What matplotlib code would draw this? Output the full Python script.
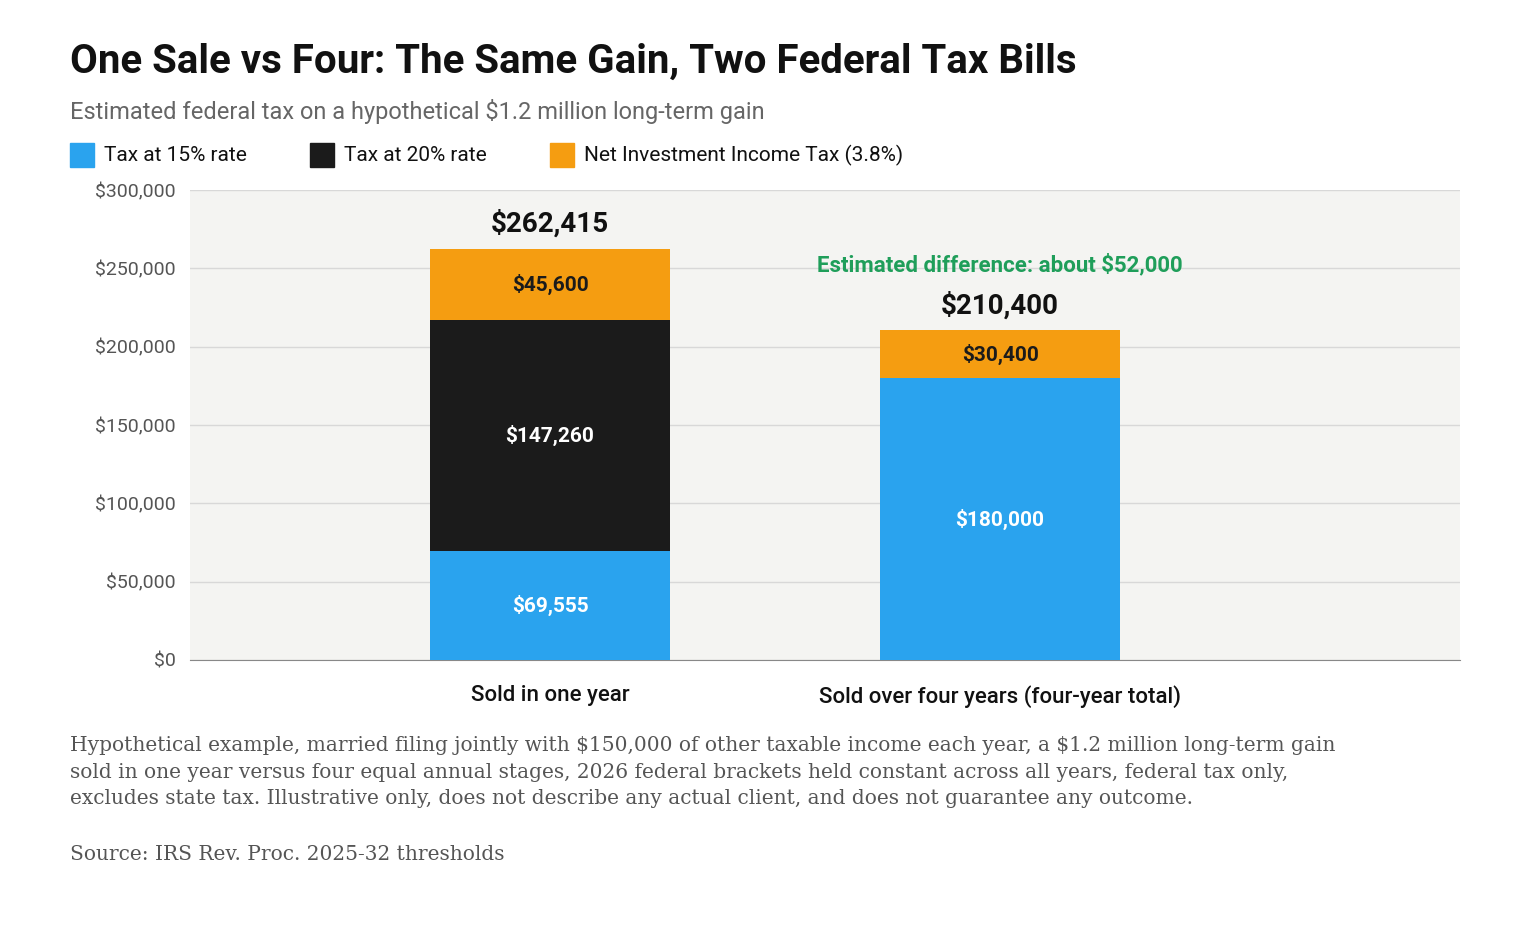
import matplotlib
matplotlib.use("Agg")
import matplotlib.pyplot as plt

categories = ["Sold in one year", "Sold over four years (four-year total)"]
tax15 = [69555, 180000]
tax20 = [147260, 0]
niit = [45600, 30400]
totals = [262415, 210400]
yticks = [0, 50000, 100000, 150000, 200000, 250000, 300000]

C15, C20, CN = "#2aa3ee", "#1b1b1b", "#f59d11"
plt.rcParams['font.family'] = ['Roboto', 'DejaVu Sans']
plt.rcParams['text.parse_math'] = False

fig = plt.figure(figsize=(15.2, 9.5), dpi=100)
ax = fig.add_axes([190/1520, 1-660/950, 1270/1520, 470/950])
ax.set_facecolor("#f4f4f2")
x = [0, 1]
w = 240/450
ax.bar(x, tax15, w, color=C15, zorder=3)
ax.bar(x, tax20, w, bottom=tax15, color=C20, zorder=3)
b2 = [a + b for a, b in zip(tax15, tax20)]
ax.bar(x, niit, w, bottom=b2, color=CN, zorder=3)
ax.set_xlim(-0.8, 2.022)
ax.set_ylim(0, 300000)
ax.set_yticks(yticks)
ax.set_yticklabels([f"${v:,}" for v in yticks], fontsize=14, color="#555")
ax.set_xticks(x)
ax.set_xticklabels(categories, fontsize=16, fontweight="medium", color="#111")
ax.tick_params(axis="both", length=0, pad=10)
ax.tick_params(axis="x", pad=18)
ax.grid(axis="y", color="#d8d8d8", lw=1, zorder=0)
for s in ["top", "right", "left"]:
    ax.spines[s].set_visible(False)
ax.spines["bottom"].set_color("#888")

for i in range(2):
    if tax15[i]:
        ax.text(x[i], tax15[i]/2, f"${tax15[i]:,}", ha="center", va="center", color="white", fontsize=15, fontweight="bold", zorder=4)
    if tax20[i]:
        ax.text(x[i], tax15[i]+tax20[i]/2, f"${tax20[i]:,}", ha="center", va="center", color="white", fontsize=15, fontweight="bold", zorder=4)
    ax.text(x[i], b2[i]+niit[i]/2, f"${niit[i]:,}", ha="center", va="center", color="#1b1b1b", fontsize=15, fontweight="bold", zorder=4)
    ax.text(x[i], totals[i]+7000, f"${totals[i]:,}", ha="center", va="bottom", color="#111", fontsize=20, fontweight="bold", zorder=4)
ax.text(1, 252000, f"Estimated difference: about ${round(totals[0]-totals[1], -3):,.0f}", ha="center", va="center",
        color="#1f9e5a", fontsize=16, fontweight="bold")

fig.text(70/1520, 1-62/950, "One Sale vs Four: The Same Gain, Two Federal Tax Bills", fontsize=29, fontweight="bold", color="#111", va="center")
fig.text(70/1520, 1-112/950, "Estimated federal tax on a hypothetical $1.2 million long-term gain", fontsize=17, color="#666", va="center")
lx = [70, 310, 550]
labels = ["Tax at 15% rate", "Tax at 20% rate", "Net Investment Income Tax (3.8%)"]
for px, lab, c in zip(lx, labels, [C15, C20, CN]):
    fig.patches.append(plt.Rectangle((px/1520, 1-167/950), 24/1520, 24/950, color=c, transform=fig.transFigure))
    fig.text((px+34)/1520, 1-155/950, lab, fontsize=15, color="#111", va="center")

foot = ("Hypothetical example, married filing jointly with $150,000 of other taxable income each year, a $1.2 million long-term gain\n"
        "sold in one year versus four equal annual stages, 2026 federal brackets held constant across all years, federal tax only,\n"
        "excludes state tax. Illustrative only, does not describe any actual client, and does not guarantee any outcome.")
fig.text(70/1520, 1-736/950, foot, fontsize=14.5, color="#555", va="top", family=["DejaVu Serif"], linespacing=1.5)
fig.text(70/1520, 1-855/950, "Source: IRS Rev. Proc. 2025-32 thresholds", fontsize=14.5, color="#555", va="center", family=["DejaVu Serif"])
fig.savefig("out.png", dpi=100, facecolor="white")
